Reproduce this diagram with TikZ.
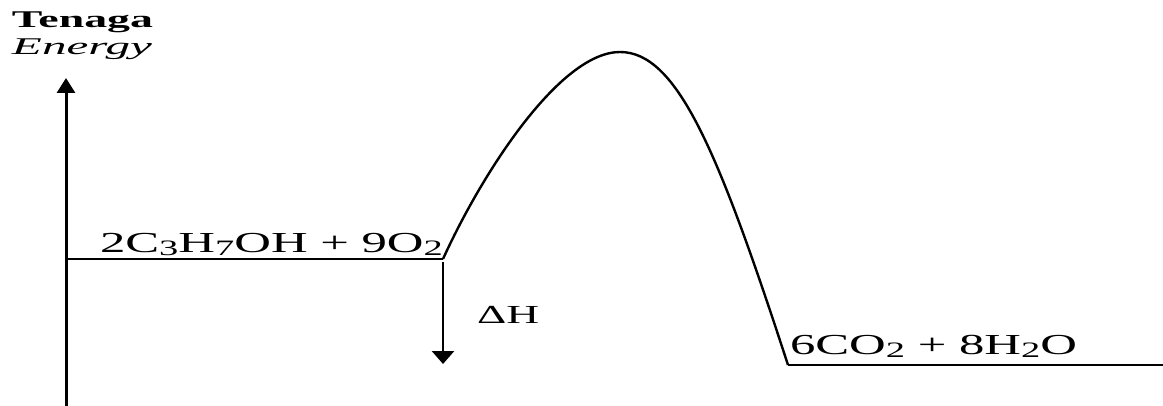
\documentclass[tikz,border=0pt]{standalone}
\usepackage{fontspec}
\setmainfont{Liberation Serif}[FakeStretch=1.75]
\newfontfamily\plainserif{Liberation Serif}
\usetikzlibrary{arrows.meta}
\newcommand{\chsub}[1]{\raisebox{-3.5pt}{\fontsize{22}{22}\selectfont #1}}
\tikzset{
  level/.style={line width=2pt},
  curveline/.style={line width=2.4pt, line join=round},
  axisline/.style={line width=3pt, -{Triangle[width=18pt,length=15pt]}},
  dharrow/.style={line width=2.8pt, -{Triangle[width=22pt,length=13pt]}},
  lbl/.style={anchor=base west, inner sep=0pt, outer sep=0pt, font=\fontsize{29}{29}\selectfont},
  axlbl/.style={anchor=base west, inner sep=0pt, outer sep=0pt, font=\plainserif\fontsize{24}{24}\selectfont},
}
\begin{document}
\begin{tikzpicture}[x=1pt,y=1pt]
\useasboundingbox (0,0) rectangle (1163,405);
% axis
\coordinate (axbot) at (66,-2);
\coordinate (axtop) at (66,327);
\draw[axisline] (axbot) -- (axtop);
\node[axlbl] (tenaga) at (12,377) {\resizebox{141pt}{\height}{\bfseries Tenaga}};
\node[axlbl] (energy) at (12,350) {\resizebox{140pt}{\height}{\itshape Energy}};
% levels
\coordinate (r0) at (66,146);
\coordinate (r1) at (443,146);
\coordinate (peak) at (620,353);
\coordinate (p0) at (788,40);
\coordinate (p1) at (1165,40);
\draw[level] (r0) -- (r1);
\draw[level] (p0) -- (p1);
% hump
\draw[curveline] (r1) .. controls (482,232) and (560,353) .. (peak)
                      .. controls (677,353) and (718,255) .. (p0);
% labels
\node[lbl] (react) at (100,153) {2C\chsub{3}H\chsub{7}OH + 9O\chsub{2}};
\node[lbl] (prod) at (790,51) {6CO\chsub{2} + 8H\chsub{2}O};
% delta H
\coordinate (dh0) at (443,143);
\coordinate (dh1) at (443,41);
\draw[dharrow] (dh0) -- (dh1);
\node[anchor=base west, inner sep=0pt, font=\fontsize{26}{26}\selectfont] (dH) at (477,82) {ΔH};
\end{tikzpicture}
\end{document}
